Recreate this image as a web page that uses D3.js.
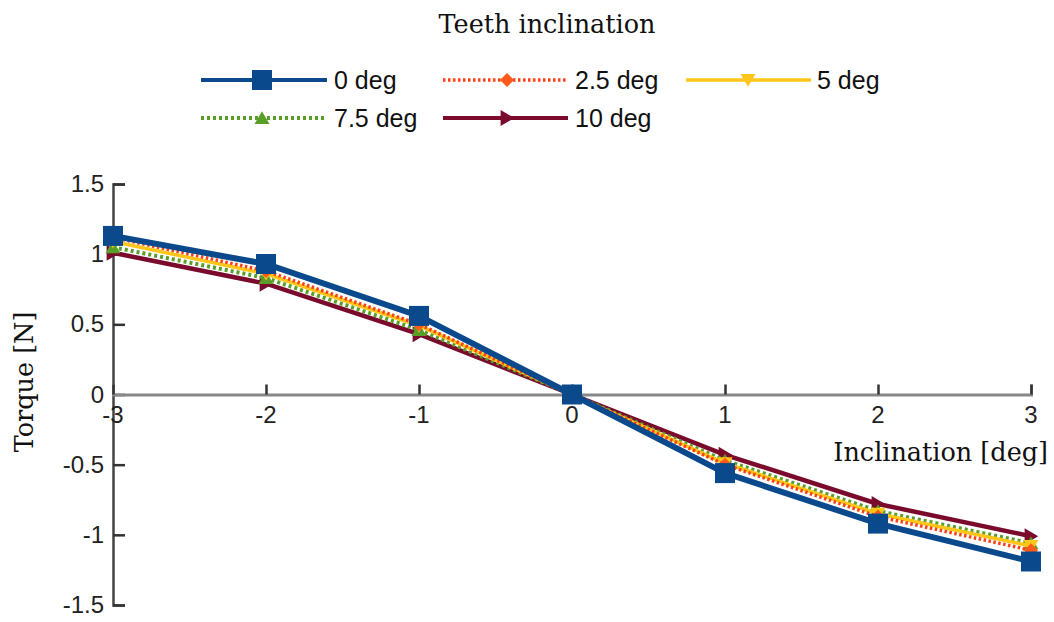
<!DOCTYPE html>
<html>
<head>
<meta charset="utf-8">
<script src="https://cdn.jsdelivr.net/npm/d3@7"></script>
<style>
  html, body { margin: 0; padding: 0; background: #fff; }
  svg { display: block; }
</style>
</head>
<body>
<svg id="chart" width="1054" height="622"></svg>
<script>
// Inclination angles on the x axis
const inclinations = [-3, -2, -1, 0, 1, 2, 3];

// Torque for each teeth inclination
const torque0 = [1.13, 0.93, 0.56, 0, -0.56, -0.92, -1.19];
const torque25 = [1.12, 0.88, 0.50, 0, -0.50, -0.87, -1.11];
const torque5 = [1.09, 0.86, 0.49, 0, -0.49, -0.85, -1.08];
const torque75 = [1.05, 0.83, 0.46, 0, -0.47, -0.83, -1.06];
const torque10 = [1.01, 0.79, 0.43, 0, -0.43, -0.78, -1.01];

const seriesNames = ["0 deg", "2.5 deg", "5 deg", "7.5 deg", "10 deg"];
const yTicks = [-1.5, -1, -0.5, 0, 0.5, 1, 1.5];
const xTicks = [-3, -2, -1, 0, 1, 2, 3];

const series = [
  { name: seriesNames[0], values: torque0, color: "#0a4a8c", width: 6, dash: null, marker: "square", size: 20 },
  { name: seriesNames[1], values: torque25, color: "#ff4015", width: 3.5, dash: "2.5,2.5", marker: "diamond", size: 14, mcolor: "#ff5a1a" },
  { name: seriesNames[2], values: torque5, color: "#ffc61a", width: 3.5, dash: null, marker: "tridown", size: 15 },
  { name: seriesNames[3], values: torque75, color: "#5a9e2a", width: 4, dash: "3,3", marker: "triup", size: 15 },
  { name: seriesNames[4], values: torque10, color: "#7a0b2c", width: 4.5, dash: null, marker: "triright", size: 16 }
];

const svg = d3.select("#chart");

const x = d3.scaleLinear().domain([-3, 3]).range([113, 1031]);
const y = d3.scaleLinear().domain([-1.5, 1.5]).range([605, 184]);

const sansFont = "'Liberation Sans', Arial, sans-serif";
const serifFont = "'DejaVu Serif', serif";

// Marker shapes centred on the origin
function markerPath(type, s) {
  const h = s / 2;
  switch (type) {
    case "square": return `M${-h},${-h}H${h}V${h}H${-h}Z`;
    case "diamond": return `M0,${-h}L${h},0L0,${h}L${-h},0Z`;
    case "tridown": return `M${-h},${-h * 0.8}L${h},${-h * 0.8}L0,${h * 0.9}Z`;
    case "triup": return `M${-h},${h * 0.8}L${h},${h * 0.8}L0,${-h * 0.9}Z`;
    case "triright": return `M${-h * 0.8},${-h}L${h * 0.9},0L${-h * 0.8},${h}Z`;
  }
}

// Title
svg.append("text")
  .attr("x", 547).attr("y", 33)
  .attr("text-anchor", "middle")
  .attr("font-family", serifFont)
  .attr("font-size", 25.5)
  .attr("fill", "#111")
  .text("Teeth inclination");

// Legend
const legendPos = [
  { x0: 201, x1: 327, mx: 262, tx: 334, y: 80 },
  { x0: 443, x1: 568, mx: 507, tx: 575, y: 80 },
  { x0: 686, x1: 811, mx: 748, tx: 817, y: 80 },
  { x0: 201, x1: 327, mx: 262, tx: 334, y: 118 },
  { x0: 443, x1: 568, mx: 507, tx: 575, y: 118 }
];
series.forEach((s, i) => {
  const p = legendPos[i];
  const g = svg.append("g");
  g.append("line")
    .attr("x1", p.x0).attr("x2", p.x1).attr("y1", p.y).attr("y2", p.y)
    .attr("stroke", s.color).attr("stroke-width", Math.min(s.width, 4))
    .attr("stroke-dasharray", s.dash);
  g.append("path")
    .attr("d", markerPath(s.marker, s.size))
    .attr("transform", `translate(${p.mx},${p.y})`)
    .attr("fill", s.mcolor || s.color);
  g.append("text")
    .attr("x", p.tx).attr("y", p.y + 9)
    .attr("font-family", sansFont).attr("font-size", 25)
    .attr("fill", "#111")
    .text(s.name);
});

// Y axis
const yAxis = d3.axisRight(y).tickValues(yTicks).tickSize(12).tickFormat("");
const yg = svg.append("g").attr("transform", `translate(${x(-3)},0)`).call(yAxis);
yg.select(".domain").attr("stroke", "#444").attr("stroke-width", 2.5);
yg.selectAll(".tick line").attr("stroke", "#333").attr("stroke-width", 2.5);

yTicks.forEach(v => {
  svg.append("text")
    .attr("x", 104).attr("y", y(v) + 8)
    .attr("text-anchor", "end")
    .attr("font-family", sansFont).attr("font-size", 24)
    .attr("fill", "#222")
    .text(String(v));
});

// X axis through zero, ticks pointing up
const xAxis = d3.axisTop(x).tickValues(xTicks).tickSize(10).tickFormat("");
const xg = svg.append("g").attr("transform", `translate(0,${y(0)})`).call(xAxis);
xg.select(".domain").attr("stroke", "#888").attr("stroke-width", 3);
xg.selectAll(".tick line").attr("stroke", "#333").attr("stroke-width", 2.5);

xTicks.forEach(v => {
  svg.append("text")
    .attr("x", x(v)).attr("y", y(0) + 28)
    .attr("text-anchor", "middle")
    .attr("font-family", sansFont).attr("font-size", 24)
    .attr("fill", "#222")
    .text(String(v));
});

// Axis titles
svg.append("text")
  .attr("x", 1048).attr("y", 461)
  .attr("text-anchor", "end")
  .attr("font-family", serifFont).attr("font-size", 25.5)
  .attr("fill", "#111")
  .text("Inclination [deg]");

svg.append("text")
  .attr("transform", "translate(33,382) rotate(-90)")
  .attr("text-anchor", "middle")
  .attr("font-family", serifFont).attr("font-size", 25.5)
  .attr("fill", "#111")
  .text("Torque [N]");

// Data lines, drawn so the 0 deg series sits on top
const line = d3.line().x((d, i) => x(inclinations[i])).y(d => y(d));
const drawOrder = series.slice().reverse();
drawOrder.forEach(s => {
  const g = svg.append("g");
  g.append("path")
    .datum(s.values)
    .attr("d", line)
    .attr("fill", "none")
    .attr("stroke", s.color)
    .attr("stroke-width", s.width)
    .attr("stroke-dasharray", s.dash)
    .attr("stroke-linejoin", "miter");
  g.selectAll("path.m")
    .data(s.values)
    .join("path")
    .attr("class", "m")
    .attr("d", markerPath(s.marker, s.size))
    .attr("transform", (d, i) => `translate(${x(inclinations[i])},${y(d)})`)
    .attr("fill", s.mcolor || s.color);
});
</script>
</body>
</html>
